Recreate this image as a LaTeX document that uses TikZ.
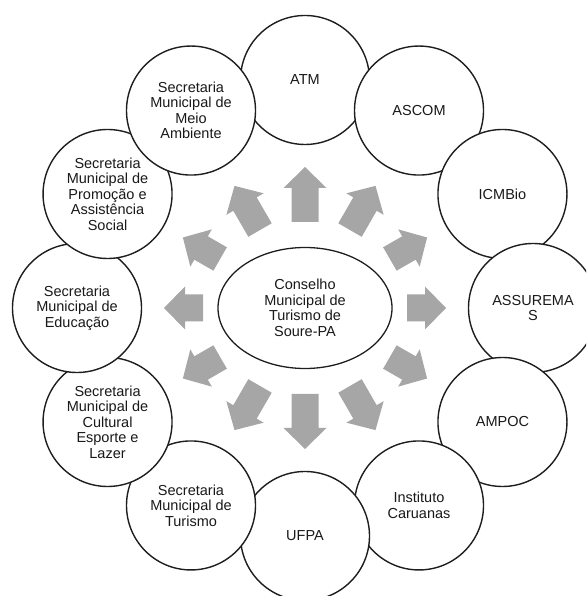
\documentclass[tikz,border=0pt]{standalone}
\usepackage{fontspec}
\setmainfont{Liberation Sans}
\usetikzlibrary{shapes.geometric, calc}

\definecolor{arrowgray}{RGB}{166,166,166}
\definecolor{linedark}{RGB}{30,30,30}

\tikzset{
	orgcircle/.style={circle, draw=linedark, line width=1.4pt, fill=white,
		minimum size=129pt, inner sep=0pt, align=center,
		font=\fontsize{14.5}{15.5}\selectfont, text=black!90},
	council/.style={ellipse, draw=linedark, line width=1.3pt, fill=white,
		minimum width=174pt, minimum height=121pt, inner sep=0pt, align=center,
		font=\fontsize{14.5}{15.5}\selectfont, text=black!90}
}

\begin{document}
\begin{tikzpicture}[x=1pt, y=1pt]
	% Define radii
	\def\rRing{228}
	\def\rTip{141}
	\def\headLen{21}

	\useasboundingbox (0,0) rectangle (586,596);
	\clip (0,0) rectangle (586,596);

	% Draw the council in the middle
	\node[council] (council) at (305,288) {Conselho\\Municipal de\\Turismo de\\Soure-PA};

	% Draw the arrows pointing outwards
	\foreach \ang in {0,30,...,330} {
		\pgfmathsetmacro\rTail{86+16*(cos(\ang))^2}
		\begin{scope}[shift={(council.center)}, rotate=\ang]
			\fill[arrowgray] (\rTail,-13.5) -- (\rTip-\headLen,-13.5) -- (\rTip-\headLen,-21.5)
				-- (\rTip,0) -- (\rTip-\headLen,21.5) -- (\rTip-\headLen,13.5) -- (\rTail,13.5) -- cycle;
		\end{scope}
	}

	% Draw the circles, clockwise from the top
	\foreach \ang/\name/\txt in {
		90/atm/{ATM},
		60/ascom/{ASCOM},
		30/icmbio/{ICMBio},
		0/assuremas/{ASSUREMA\\S},
		330/ampoc/{AMPOC},
		300/caruanas/{Instituto\\Caruanas},
		270/ufpa/{UFPA},
		240/turismo/{Secretaria\\Municipal de\\Turismo},
		210/cultura/{Secretaria\\Municipal de\\Cultural\\Esporte e\\Lazer},
		180/educacao/{Secretaria\\Municipal de\\Educação},
		150/promocao/{Secretaria\\Municipal de\\Promoção e\\Assistência\\Social},
		120/ambiente/{Secretaria\\Municipal de\\Meio\\Ambiente}} {
		\node[orgcircle] (\name) at ($(council.center)+(\ang:\rRing)$) {\txt};
	}
\end{tikzpicture}
\end{document}
